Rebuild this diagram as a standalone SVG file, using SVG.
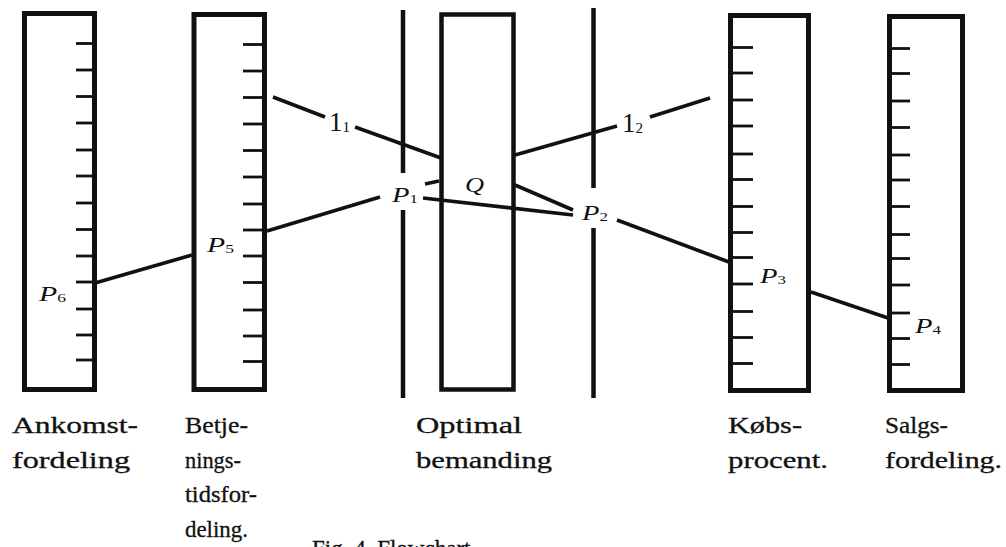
<svg xmlns="http://www.w3.org/2000/svg" width="1006" height="547" viewBox="0 0 1006 547">
<style>
.box{fill:#fff;stroke:#111;stroke-width:5}
.tick{stroke:#111;stroke-width:2.8}
.ln{stroke:#111;stroke-width:3.6;fill:none;stroke-linecap:butt}
.vl{stroke:#111;stroke-width:4.5}
.lbl{font-family:"Liberation Serif","Times New Roman",serif;font-size:23px;fill:#111;stroke:#111;stroke-width:0.3}
.pl{font-family:"Liberation Serif","Times New Roman",serif;font-size:22px;font-style:italic;fill:#111}
.sub{font-style:normal;font-size:13px}
.ll{font-family:"Liberation Serif","Times New Roman",serif;font-size:27px;fill:#111}
</style>
<rect width="1006" height="547" fill="#fff"/>

<g id="ankomst">
<rect class="box" x="24.5" y="13.5" width="70" height="376"/>
<g class="tick">
<line x1="76" y1="43.5" x2="93" y2="43.5"/><line x1="76" y1="70" x2="93" y2="70"/><line x1="76" y1="96.5" x2="93" y2="96.5"/><line x1="76" y1="123" x2="93" y2="123"/><line x1="76" y1="150" x2="93" y2="150"/><line x1="76" y1="176" x2="93" y2="176"/><line x1="76" y1="203" x2="93" y2="203"/><line x1="76" y1="229.5" x2="93" y2="229.5"/><line x1="76" y1="256" x2="93" y2="256"/><line x1="76" y1="282" x2="93" y2="282"/><line x1="76" y1="309" x2="93" y2="309"/><line x1="76" y1="335" x2="93" y2="335"/><line x1="76" y1="360" x2="93" y2="360"/>
</g>
<text class="pl" transform="translate(39,301) scale(1.35,1)">P<tspan class="sub" dy="1">6</tspan></text>
<text class="lbl" x="12" y="433" textLength="126" lengthAdjust="spacingAndGlyphs">Ankomst-</text>
<text class="lbl" x="12" y="468" textLength="118" lengthAdjust="spacingAndGlyphs">fordeling</text>
</g>

<g id="betjening">
<rect class="box" x="194" y="14.5" width="70.5" height="375"/>
<g class="tick">
<line x1="243" y1="44.5" x2="263" y2="44.5"/><line x1="243" y1="71" x2="263" y2="71"/><line x1="243" y1="97.5" x2="263" y2="97.5"/><line x1="243" y1="124" x2="263" y2="124"/><line x1="243" y1="150.5" x2="263" y2="150.5"/><line x1="243" y1="177" x2="263" y2="177"/><line x1="243" y1="204" x2="263" y2="204"/><line x1="243" y1="230" x2="263" y2="230"/><line x1="243" y1="256" x2="263" y2="256"/><line x1="243" y1="282.5" x2="263" y2="282.5"/><line x1="243" y1="310" x2="263" y2="310"/><line x1="243" y1="336" x2="263" y2="336"/><line x1="243" y1="361.5" x2="263" y2="361.5"/>
</g>
<text class="pl" transform="translate(207,252) scale(1.35,1)">P<tspan class="sub" dy="1">5</tspan></text>
<text class="lbl" x="185" y="433" textLength="63" lengthAdjust="spacingAndGlyphs">Betje-</text>
<text class="lbl" x="185" y="468" textLength="56" lengthAdjust="spacingAndGlyphs">nings-</text>
<text class="lbl" x="185" y="502" textLength="72" lengthAdjust="spacingAndGlyphs">tidsfor-</text>
<text class="lbl" x="185" y="537" textLength="63" lengthAdjust="spacingAndGlyphs">deling.</text>
</g>

<g id="linje1">
<line class="vl" x1="403" y1="10" x2="403" y2="173"/>
<line class="vl" x1="403" y1="210" x2="403" y2="398"/>
<text class="pl" transform="translate(392,202) scale(1.3,1)">P<tspan class="sub" dy="1">1</tspan></text>
</g>

<g id="optimal">
<rect class="box" x="441.5" y="14.5" width="72" height="375" style="stroke-width:4.5"/>
<text class="pl" transform="translate(465,192) scale(1.2,1)">Q</text>
<text class="lbl" x="416" y="433" textLength="106" lengthAdjust="spacingAndGlyphs">Optimal</text>
<text class="lbl" x="416" y="468" textLength="136" lengthAdjust="spacingAndGlyphs">bemanding</text>
</g>

<g id="linje2">
<line class="vl" x1="593.5" y1="8" x2="593.5" y2="188"/>
<line class="vl" x1="593.5" y1="228" x2="593.5" y2="398"/>
<text class="pl" transform="translate(582,220) scale(1.3,1)">P<tspan class="sub" dy="1">2</tspan></text>
</g>

<g id="koebs">
<rect class="box" x="730.5" y="15.5" width="78" height="375"/>
<g class="tick">
<line x1="732" y1="47.5" x2="753" y2="47.5"/><line x1="732" y1="73" x2="753" y2="73"/><line x1="732" y1="100" x2="753" y2="100"/><line x1="732" y1="126" x2="753" y2="126"/><line x1="732" y1="154" x2="753" y2="154"/><line x1="732" y1="179.5" x2="753" y2="179.5"/><line x1="732" y1="206.5" x2="753" y2="206.5"/><line x1="732" y1="232.5" x2="753" y2="232.5"/><line x1="732" y1="257.5" x2="753" y2="257.5"/><line x1="732" y1="284" x2="753" y2="284"/><line x1="732" y1="311.5" x2="753" y2="311.5"/><line x1="732" y1="337.5" x2="753" y2="337.5"/><line x1="732" y1="363.5" x2="753" y2="363.5"/>
</g>
<text class="pl" transform="translate(760,283) scale(1.3,1)">P<tspan class="sub" dy="1">3</tspan></text>
<text class="lbl" x="728" y="433" textLength="74" lengthAdjust="spacingAndGlyphs">Købs-</text>
<text class="lbl" x="728" y="468" textLength="100" lengthAdjust="spacingAndGlyphs">procent.</text>
</g>

<g id="salgs">
<rect class="box" x="889.5" y="16.5" width="73" height="374"/>
<g class="tick">
<line x1="891" y1="48.5" x2="910" y2="48.5"/><line x1="891" y1="73.5" x2="910" y2="73.5"/><line x1="891" y1="101" x2="910" y2="101"/><line x1="891" y1="127.5" x2="910" y2="127.5"/><line x1="891" y1="155" x2="910" y2="155"/><line x1="891" y1="180" x2="910" y2="180"/><line x1="891" y1="206.5" x2="910" y2="206.5"/><line x1="891" y1="234.5" x2="910" y2="234.5"/><line x1="891" y1="258.5" x2="910" y2="258.5"/><line x1="891" y1="285" x2="910" y2="285"/><line x1="891" y1="313" x2="910" y2="313"/><line x1="891" y1="338.5" x2="910" y2="338.5"/><line x1="891" y1="364.5" x2="910" y2="364.5"/>
</g>
<text class="pl" transform="translate(915,333) scale(1.3,1)">P<tspan class="sub" dy="1">4</tspan></text>
<text class="lbl" x="885" y="433" textLength="63" lengthAdjust="spacingAndGlyphs">Salgs-</text>
<text class="lbl" x="885" y="468" textLength="117" lengthAdjust="spacingAndGlyphs">fordeling.</text>
</g>

<g id="connectors">
<line class="ln" x1="95" y1="283" x2="192" y2="255"/>
<line class="ln" x1="267" y1="231" x2="380" y2="197"/>
<line class="ln" x1="273" y1="97" x2="325" y2="117"/>
<line class="ln" x1="355" y1="127" x2="441" y2="158"/>
<line class="ln" x1="425" y1="184" x2="439" y2="181"/>
<line class="ln" x1="423" y1="198" x2="573" y2="215"/>
<line class="ln" x1="515" y1="155" x2="617" y2="126"/>
<line class="ln" x1="650" y1="117" x2="710" y2="98"/>
<line class="ln" x1="515" y1="185" x2="573" y2="210"/>
<line class="ln" x1="617" y1="220" x2="729" y2="262"/>
<line class="ln" x1="811" y1="292" x2="888" y2="318"/>
<text class="ll" x="329" y="131">1<tspan font-size="15" dy="1">1</tspan></text>
<text class="ll" x="622" y="132">1<tspan font-size="15" dy="1">2</tspan></text>
</g>

<text class="lbl" x="312" y="556">Fig. 4. Flowchart</text>
</svg>
